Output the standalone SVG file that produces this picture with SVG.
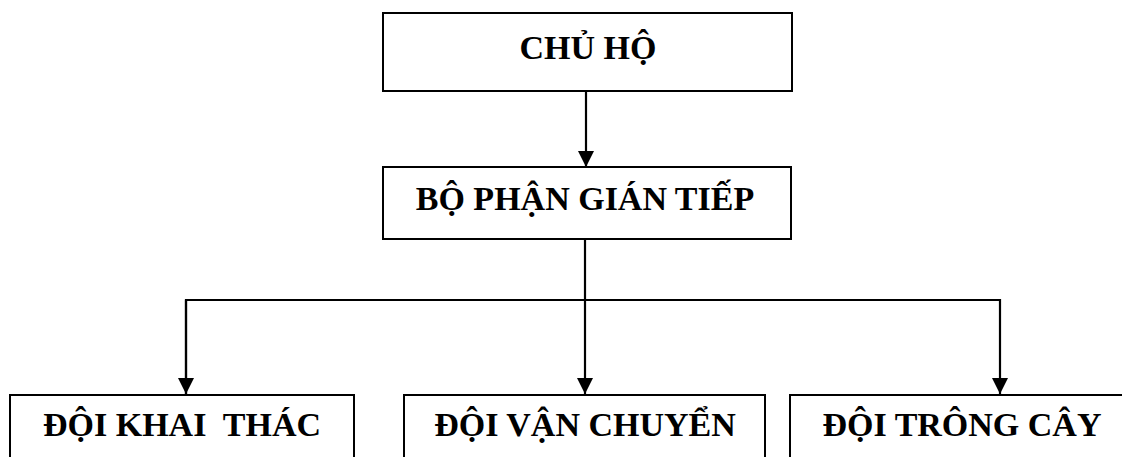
<svg xmlns="http://www.w3.org/2000/svg" width="1122" height="457" viewBox="0 0 1122 457">
<style>
.box{fill:#fff;stroke:#000;stroke-width:2}
.lbl{font-family:"Liberation Serif","Times New Roman",serif;font-weight:bold;font-size:34px;fill:#000;text-anchor:middle;white-space:pre}
.conn{fill:none;stroke:#000;stroke-width:2.2}
</style>
<defs>
<marker id="arr" markerUnits="userSpaceOnUse" markerWidth="16" markerHeight="17" refX="16" refY="8" orient="auto">
<path d="M0,0 L16,8 L0,16 Z" fill="#000"/>
</marker>
</defs>
<rect width="1122" height="457" fill="#fff"/>
<g id="connectors">
<line class="conn" x1="586" y1="92" x2="586" y2="167" marker-end="url(#arr)"/>
<line class="conn" x1="585" y1="239" x2="585" y2="394" marker-end="url(#arr)"/>
<polyline class="conn" points="186,394 186,300 1000,300 1000,394" marker-end="url(#arr)"/>
<line class="conn" x1="186" y1="300" x2="186" y2="394" marker-end="url(#arr)"/>
</g>
<g id="chu-ho">
<rect class="box" x="383" y="13" width="409" height="78"/>
<text class="lbl" x="588" y="59">CHỦ HỘ</text>
</g>
<g id="bo-phan-gian-tiep">
<rect class="box" x="383" y="167" width="408" height="72"/>
<text class="lbl" x="585" y="210">BỘ PHẬN GIÁN TIẾP</text>
</g>
<g id="doi-khai-thac">
<rect class="box" x="10" y="395" width="344" height="80"/>
<text class="lbl" x="182" y="436" xml:space="preserve">ĐỘI KHAI  THÁC</text>
</g>
<g id="doi-van-chuyen">
<rect class="box" x="404" y="395" width="361" height="80"/>
<text class="lbl" x="585" y="436">ĐỘI VẬN CHUYỂN</text>
</g>
<g id="doi-trong-cay">
<rect class="box" x="790" y="395" width="345" height="80"/>
<text class="lbl" x="962" y="436">ĐỘI TRÔNG CÂY</text>
</g>
</svg>
